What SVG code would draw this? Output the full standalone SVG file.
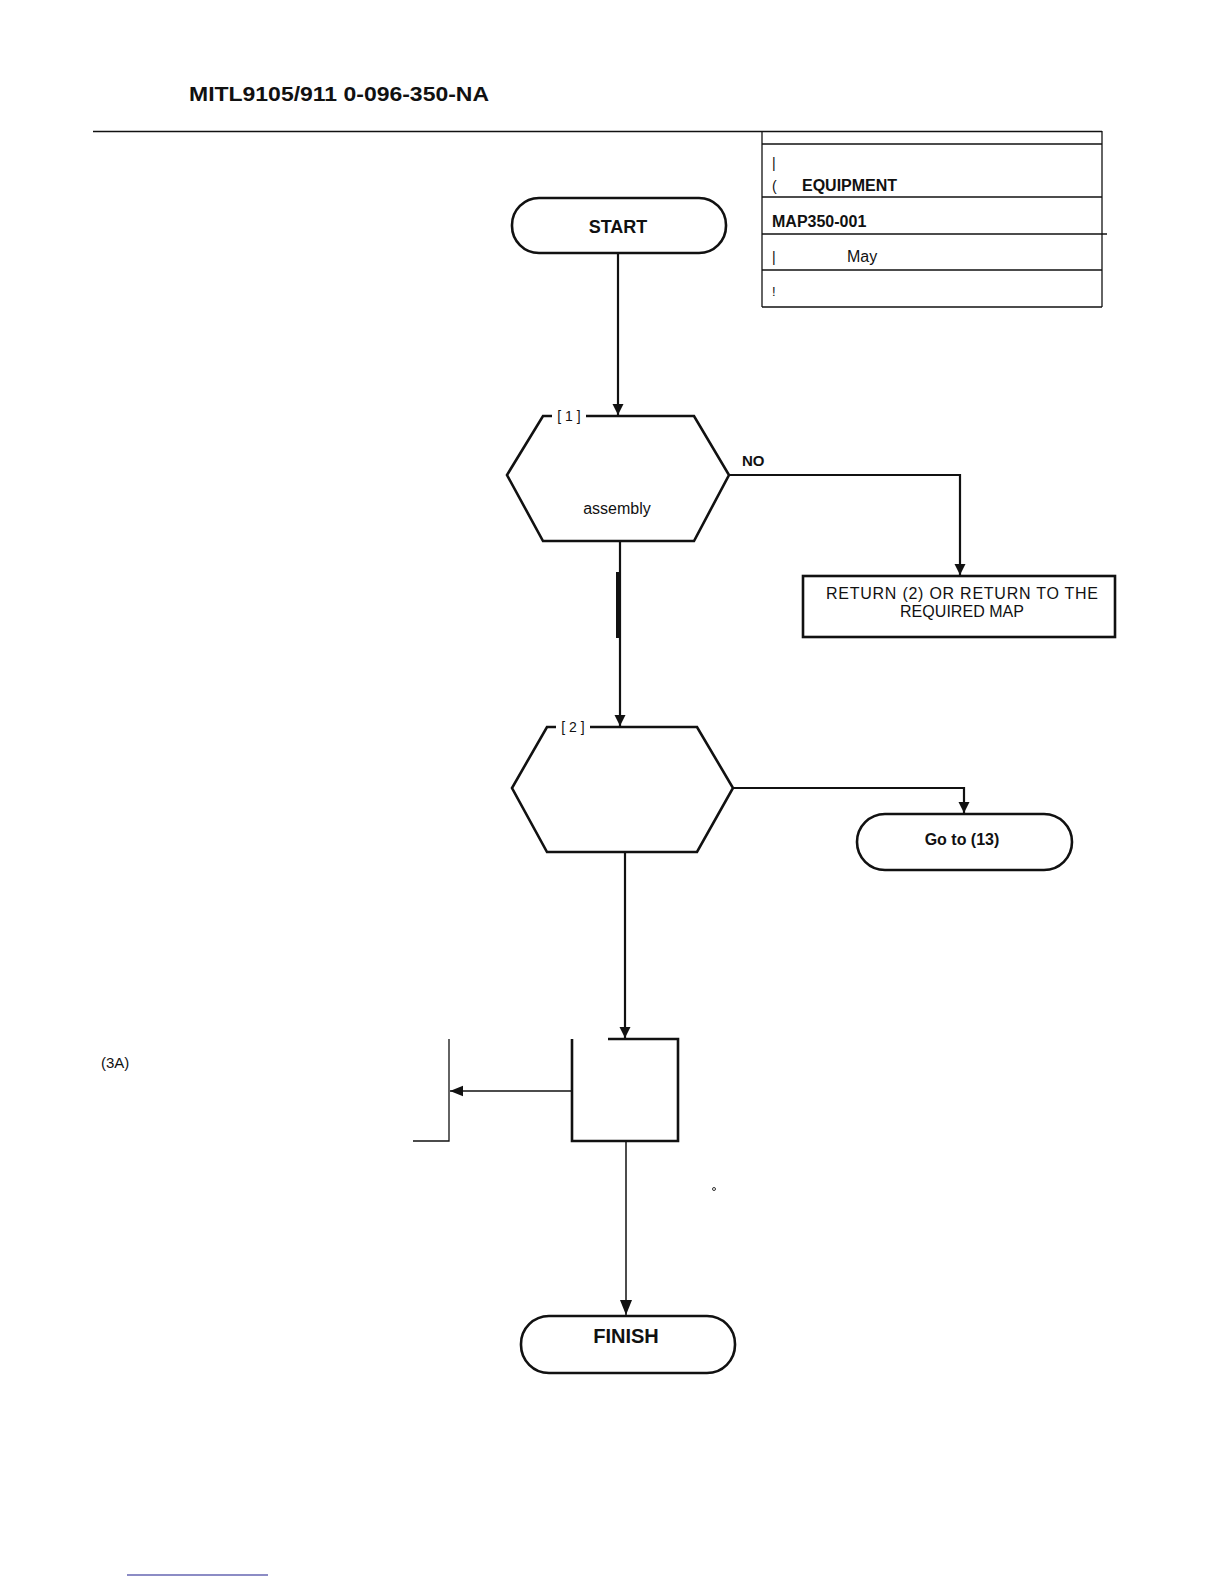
<svg xmlns="http://www.w3.org/2000/svg" width="1224" height="1584" viewBox="0 0 1224 1584">
<style>
  text { font-family: "Liberation Sans", Arial, sans-serif; fill: #111; }
  .b { font-weight: bold; }
  .shape { fill: #fff; stroke: #111; stroke-width: 2.6; }
  .thin { fill: none; stroke: #111; stroke-width: 1.3; }
  .conn { fill: none; stroke: #111; stroke-width: 2.2; }
  .c { text-anchor: middle; }
</style>
<defs>
  <marker id="ah" viewBox="0 0 10 10" refX="10" refY="5" markerWidth="5" markerHeight="6" markerUnits="strokeWidth" orient="auto">
    <path d="M0,0 L10,5 L0,10 z" fill="#111"/>
  </marker>
  <marker id="ahs" viewBox="0 0 10 10" refX="10" refY="5" markerWidth="10" markerHeight="10" markerUnits="strokeWidth" orient="auto">
    <path d="M0,1 L10,5 L0,9 z" fill="#111"/>
  </marker>
</defs>
<rect width="1224" height="1584" fill="#fff"/>

<g id="header">
  <text x="189" y="101" font-size="21" class="b" textLength="300" lengthAdjust="spacingAndGlyphs">MITL9105/911 0-096-350-NA</text>
  <line x1="93" y1="131.5" x2="1102" y2="131.5" stroke="#111" stroke-width="1.3"/>
</g>

<g id="title-block">
  <line x1="762" y1="131" x2="762" y2="307" class="thin"/>
  <line x1="1102" y1="131" x2="1102" y2="307" class="thin"/>
  <line x1="762" y1="144" x2="1102" y2="144" class="thin"/>
  <line x1="762" y1="197" x2="1102" y2="197" class="thin"/>
  <line x1="762" y1="234" x2="1107" y2="234" class="thin"/>
  <line x1="762" y1="270" x2="1102" y2="270" class="thin"/>
  <line x1="762" y1="307" x2="1102" y2="307" class="thin"/>
  <text x="772" y="168" font-size="14">|</text>
  <text x="772" y="191" font-size="14">(</text>
  <text x="802" y="191" font-size="16" class="b">EQUIPMENT</text>
  <text x="772" y="227" font-size="16" class="b">MAP350-001</text>
  <text x="772" y="262" font-size="14">|</text>
  <text x="847" y="262" font-size="16">May</text>
  <text x="772" y="296" font-size="13">!</text>
</g>

<g id="start">
  <rect x="512" y="198" width="214" height="55" rx="27" class="shape"/>
  <text x="618" y="233" font-size="18" class="b c">START</text>
</g>

<g id="decision1">
  <polygon points="543,416 694,416 729,475 694,541 543,541 507,475" class="shape"/>
  <rect x="552" y="410" width="34" height="12" fill="#fff"/>
  <text x="569" y="421" font-size="14" class="c">[ 1 ]</text>
  <text x="617" y="514" font-size="16" class="c">assembly</text>
</g>

<g id="return-box">
  <rect x="803" y="576" width="312" height="61" class="shape"/>
  <text x="826" y="599" font-size="16" textLength="272" lengthAdjust="spacing">RETURN (2) OR RETURN TO THE</text>
  <text x="962" y="617" font-size="16" class="c" textLength="124" lengthAdjust="spacing">REQUIRED MAP</text>
</g>

<g id="decision2">
  <polygon points="547,727 697,727 733,788 697,852 547,852 512,788" class="shape"/>
  <rect x="556" y="721" width="34" height="12" fill="#fff"/>
  <text x="573" y="732" font-size="14" class="c">[ 2 ]</text>
</g>

<g id="goto13">
  <rect x="857" y="814" width="215" height="56" rx="28" class="shape"/>
  <text x="962" y="845" font-size="16" class="b c">Go to (13)</text>
</g>

<g id="step3">
  <path d="M608,1039 L678,1039 L678,1141 L572,1141 L572,1039" class="shape" fill="none"/>
</g>

<g id="step3a">
  <text x="101" y="1068" font-size="15">(3A)</text>
  <path d="M449,1039 L449,1141 L413,1141" class="thin" stroke-width="1.5"/>
</g>

<g id="finish">
  <rect x="521" y="1316" width="214" height="57" rx="28" class="shape"/>
  <text x="626" y="1338" font-size="20" class="b c" dominant-baseline="middle">FINISH</text>
</g>

<g id="connectors">
  <line x1="618" y1="253" x2="618" y2="415" class="conn" marker-end="url(#ah)"/>
  <text x="742" y="466" font-size="15" class="b">NO</text>
  <polyline points="729,475 960,475 960,575" class="conn" marker-end="url(#ah)"/>
  <line x1="620" y1="541" x2="620" y2="726" class="conn" marker-end="url(#ah)"/>
  <rect x="616" y="572" width="5" height="66" fill="#111"/>
  <polyline points="733,788 964,788 964,813" class="conn" marker-end="url(#ah)"/>
  <line x1="625" y1="852" x2="625" y2="1038" class="conn" marker-end="url(#ah)"/>
  <line x1="572" y1="1091" x2="450" y2="1091" stroke="#111" stroke-width="1.3" marker-end="url(#ahs)"/>
  <line x1="626" y1="1141" x2="626" y2="1315" stroke="#111" stroke-width="1.5" marker-end="url(#ahs)"/>
</g>

<g id="marks">
  <circle cx="714" cy="1189" r="1.5" fill="none" stroke="#333" stroke-width="1"/>
  <line x1="127" y1="1575" x2="268" y2="1575" stroke="#1a1a8c" stroke-width="1.2"/>
</g>
</svg>
